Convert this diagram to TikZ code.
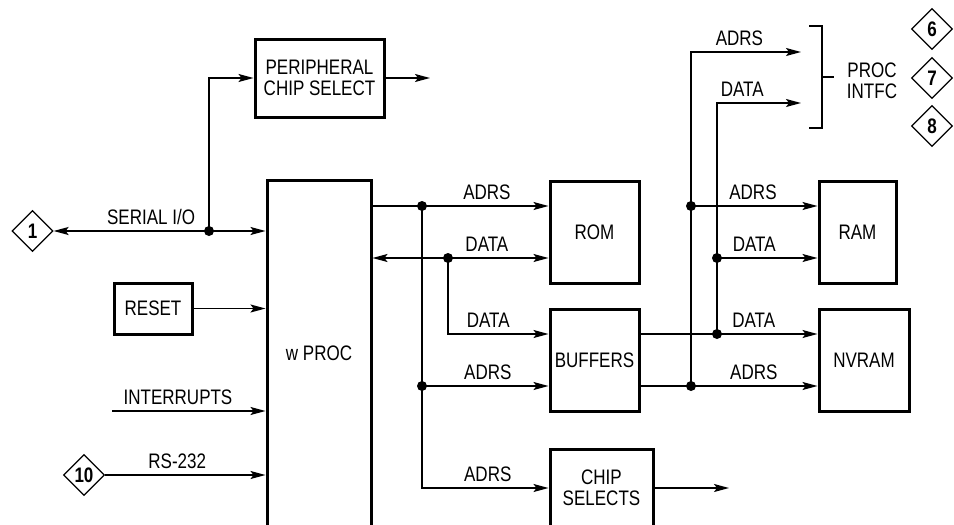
\documentclass[tikz,border=0pt]{standalone}
\usepackage{fontspec}
\setmainfont[FakeStretch=0.81]{Liberation Sans}
\usetikzlibrary{arrows.meta,positioning,shapes.geometric}

\begin{document}
\begin{tikzpicture}[x=1pt,y=-1pt,
        font=\fontsize{21}{20.5}\selectfont,
        >={Stealth[length=15pt,width=8pt,inset=3pt]},
        block/.style={draw, line width=3pt, align=center, inner sep=0pt},
        port/.style={diamond, draw, line width=1.2pt, minimum width=41pt, minimum height=41pt, inner sep=0pt, font=\fontsize{21}{21}\selectfont\bfseries},
        sig/.style={line width=1.5pt, ->},
        siglabel/.style={above=5pt, inner sep=1pt}
    ]
        \useasboundingbox[fill=white] (0,0) rectangle (954,525);

        % blocks
        \node[block, minimum width=129pt, minimum height=78pt] (pcs) at (319.5,78) {PERIPHERAL\\CHIP SELECT};
        \node[block, minimum width=104pt, minimum height=346pt] (proc) at (319,353) {w PROC};
        \node[block, minimum width=78pt, minimum height=51pt] (reset) at (153,308.5) {RESET};
        \node[block, minimum width=89pt, minimum height=102pt] (rom) at (594.5,232) {ROM};
        \node[block, minimum width=89pt, minimum height=102pt] (buffers) at (594.5,360) {BUFFERS};
        \node[block, minimum width=103pt, minimum height=78pt] (chipsel) at (601.5,488) {CHIP\\SELECTS};
        \node[block, minimum width=77pt, minimum height=102pt] (ram) at (857.5,232) {RAM};
        \node[block, minimum width=90pt, minimum height=102pt] (nvram) at (864,360) {NVRAM};

        % connector ports
        \node[port] (portone) at (32.5,231) {1};
        \node[port] (portten) at (84,475) {10};
        \foreach \n/\y in {6/29,7/78,8/126}
            \node[port] (port\n) at (932,\y) {\n};
        \node[align=center] (intfc) at (872,81) {PROC\\INTFC};

        % junctions and free ends
        \coordinate (sj) at (209,231);
        \coordinate (pcsout) at (430,78);
        \coordinate (intsrc) at (112,411);
        \coordinate (ja) at (422,206);
        \coordinate (jb) at (422,386);
        \coordinate (jd) at (448,258);
        \coordinate (rja) at (691,206);
        \coordinate (rjd) at (717,258);
        \coordinate (ra) at (691,386);
        \coordinate (rd) at (717,334);
        \coordinate (ia) at (801,52);
        \coordinate (id) at (801,103);
        \coordinate (csout) at (729,488);

        % left side
        \draw[sig, <->] (portone.east) -- (portone.east -| proc.west) node[siglabel, pos=0.46] {SERIAL I/O};
        \draw[sig] (sj) |- (pcs.west);
        \draw[sig] (pcs.east) -- (pcsout);
        \draw[sig] (reset.east) -- (reset.east -| proc.west);
        \draw[sig] (intsrc) -- (intsrc -| proc.west) node[siglabel, pos=0.43] {INTERRUPTS};
        \draw[sig] (portten.east) -- (portten.east -| proc.west) node[siglabel, pos=0.45] {RS-232};

        % processor bus
        \draw[sig] (ja -| proc.east) -- (ja -| rom.west) node[siglabel, pos=0.65] {ADRS};
        \draw[sig, <->] (jd -| proc.east) -- (jd -| rom.west) node[siglabel, pos=0.65] {DATA};
        \draw[sig] (ja) |- (chipsel.west) node[siglabel, pos=0.76] {ADRS};
        \draw[sig] (jb) -- (jb -| buffers.west) node[siglabel, pos=0.52] {ADRS};
        \draw[sig] (jd) |- ([yshift=26pt]buffers.west) node[siglabel, pos=0.7] {DATA};
        \draw[sig] (chipsel.east) -- (csout);

        % buffered bus
        \draw[sig] ([yshift=26pt]buffers.east) -- ([yshift=26pt]nvram.west) node[siglabel, pos=0.64] {DATA};
        \draw[sig] ([yshift=-26pt]buffers.east) -- ([yshift=-26pt]nvram.west) node[siglabel, pos=0.64] {ADRS};
        \draw[sig] (rja) -- (rja -| ram.west) node[siglabel, pos=0.49] {ADRS};
        \draw[sig] (rjd) -- (rjd -| ram.west) node[siglabel, pos=0.37] {DATA};
        \draw[sig] (ra) |- (ia) node[siglabel, pos=0.72] {ADRS};
        \draw[sig] (rd) |- (id) node[siglabel, pos=0.65] {DATA};

        % bracket
        \draw[line width=1.5pt] (809,26) -- (822,26) -- (822,128) -- (809,128) (822,77) -- (834,77);

        \foreach \d in {sj,ja,jb,jd,rja,rjd,ra,rd}
            \fill (\d) circle (5pt);
    \end{tikzpicture}
\end{document}
